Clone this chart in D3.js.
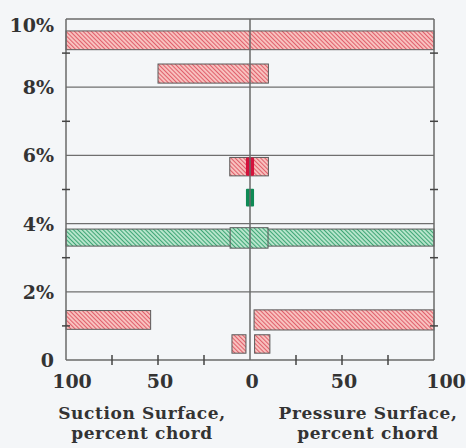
<meta charset="UTF-8">
<head>
  <script src="https://d3js.org/d3.v7.min.js"></script>
  <style>
    body { margin: 0; background: #f4f6f8; }
    text { font-family: "DejaVu Serif", serif; font-weight: bold; fill: #333; }
  </style>
</head>
<body>
  <svg id="svg" width="466" height="448"></svg>
  <script>
    // percent chord: negative = suction side, positive = pressure side
    const xTicks = [-75, -50, -25, 25, 50, 75];
    const xTickLabels = [-100, -50, 0, 50, 100];
    const yGrid = [2, 4, 6, 8];
    const yMinor = [1, 3, 5, 7, 9];
    const yLabels = ["0", "2%", "4%", "6%", "8%", "10%"];

    // hatched pink regions
    const pinkStart = [-100, -50, -11, -100, 2.2, -9.8, 2.5];
    const pinkEnd   = [100, 10, 10, -54, 100, -2.2, 10.8];
    const pinkLow   = [9.1, 8.12, 5.4, 0.9, 0.88, 0.2, 0.2];
    const pinkHigh  = [9.65, 8.68, 5.94, 1.45, 1.47, 0.74, 0.74];

    // hatched green regions
    const greenStart = [-100, -10.8];
    const greenEnd   = [100, 9.8];
    const greenLow   = [3.34, 3.28];
    const greenHigh  = [3.84, 3.88];

    // solid marks
    const solidStart = [-2.2, -2.2];
    const solidEnd   = [2.2, 2.2];
    const solidLow   = [5.4, 4.5];
    const solidHigh  = [5.94, 5.02];
    const solidColor = ["#d3123c", "#0e8a55"];

    const svg = d3.select("#svg");
    const x = d3.scaleLinear().domain([-100, 100]).range([66, 434]);
    const y = d3.scaleLinear().domain([0, 10]).range([360, 19]);

    const defs = svg.append("defs");
    function hatch(id, bg, fg) {
      const p = defs.append("pattern").attr("id", id)
        .attr("patternUnits", "userSpaceOnUse")
        .attr("width", 3).attr("height", 3)
        .attr("patternTransform", "rotate(-45)");
      p.append("rect").attr("width", 3).attr("height", 3).attr("fill", bg);
      p.append("line").attr("x1", 0.5).attr("y1", 0).attr("x2", 0.5).attr("y2", 3)
        .attr("stroke", fg).attr("stroke-width", 1.1);
    }
    hatch("pink", "#f9c3c0", "#e0606c");
    hatch("green", "#b9e6cd", "#3fa676");

    // grid lines
    svg.append("g").selectAll("line").data(yGrid).join("line")
      .attr("x1", x(-100)).attr("x2", x(100))
      .attr("y1", d => y(d)).attr("y2", d => y(d))
      .attr("stroke", "#6f6f6f").attr("stroke-width", 1.3);

    // regions
    function boxes(s, e, lo, hi, fill) {
      svg.append("g").selectAll("rect").data(d3.range(s.length)).join("rect")
        .attr("x", i => x(s[i])).attr("width", i => x(e[i]) - x(s[i]))
        .attr("y", i => y(hi[i])).attr("height", i => y(lo[i]) - y(hi[i]))
        .attr("fill", fill)
        .attr("stroke", "#5a5a5a").attr("stroke-width", 1);
    }
    boxes(pinkStart, pinkEnd, pinkLow, pinkHigh, "url(#pink)");
    boxes(greenStart, greenEnd, greenLow, greenHigh, "url(#green)");

    svg.append("g").selectAll("rect").data(d3.range(solidStart.length)).join("rect")
      .attr("x", i => x(solidStart[i])).attr("width", i => x(solidEnd[i]) - x(solidStart[i]))
      .attr("y", i => y(solidHigh[i])).attr("height", i => y(solidLow[i]) - y(solidHigh[i]))
      .attr("rx", 1)
      .attr("fill", i => solidColor[i]);

    // frame: left, right, top, bottom, centre
    const frame = [
      [x(-100), y(0), x(-100), y(10)],
      [x(100), y(0), x(100), y(10)],
      [x(-100), y(10), x(100), y(10)],
      [x(-100), y(0), x(100), y(0)],
      [x(0), y(0), x(0), y(10)]
    ];
    svg.append("g").selectAll("line").data(frame).join("line")
      .attr("x1", d => d[0]).attr("y1", d => d[1]).attr("x2", d => d[2]).attr("y2", d => d[3])
      .attr("stroke", "#6a6a6a").attr("stroke-width", 1.5);

    // minor ticks on both vertical axes
    [-100, 100].forEach(side => {
      svg.append("g").selectAll("line").data(yMinor).join("line")
        .attr("x1", x(side) - 4).attr("x2", x(side) + 4)
        .attr("y1", d => y(d)).attr("y2", d => y(d))
        .attr("stroke", "#444").attr("stroke-width", 1.5);
    });

    // bottom ticks
    svg.append("g").selectAll("line").data(xTicks).join("line")
      .attr("x1", d => x(d)).attr("x2", d => x(d))
      .attr("y1", y(0) - 5).attr("y2", y(0) + 5)
      .attr("stroke", "#444").attr("stroke-width", 1.5);

    // bottom tick labels
    svg.append("g").selectAll("text").data(xTickLabels).join("text")
      .attr("x", d => x(d) + (d === 100 ? 12 : d === -100 ? 6 : d === 0 ? 2 : 2))
      .attr("y", 388)
      .attr("text-anchor", "middle")
      .attr("font-size", 19)
      .text(d => Math.abs(d));

    // y labels
    svg.append("g").selectAll("text").data(yLabels).join("text")
      .attr("x", 54)
      .attr("y", (d, i) => y(i * 2) + (i === 5 ? 13 : 7))
      .attr("text-anchor", "end")
      .attr("font-size", 19)
      .text(d => d);

    // axis titles
    const titles = [
      ["Suction Surface,", 142, 419], ["percent chord", 142, 439],
      ["Pressure Surface,", 368, 419], ["percent chord", 368, 439]
    ];
    svg.append("g").selectAll("text").data(titles).join("text")
      .attr("x", d => d[1]).attr("y", d => d[2])
      .attr("text-anchor", "middle")
      .attr("font-size", 17)
      .attr("letter-spacing", 0.6)
      .text(d => d[0]);
  </script>
</body>
